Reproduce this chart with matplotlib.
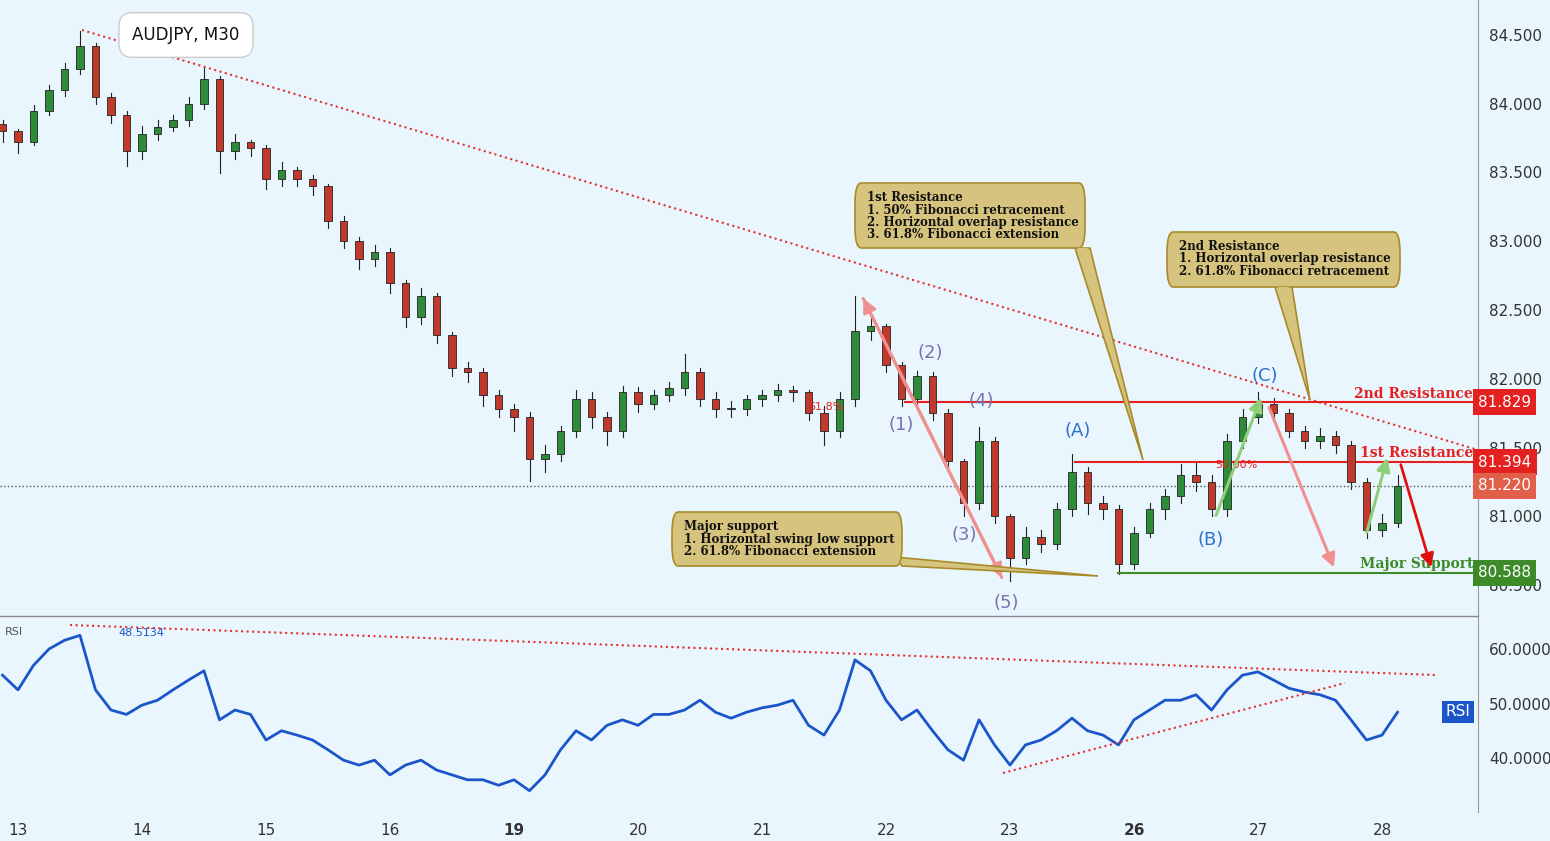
import matplotlib
matplotlib.use("Agg")
import matplotlib.pyplot as plt
from matplotlib.patches import Rectangle, FancyBboxPatch, Polygon
import numpy as np

day_labels = ["13", "14", "15", "16", "19", "20", "21", "22", "23", "26", "27", "28"]
bold_days = ["19", "26"]
closes = [83.80, 83.72, 83.95, 84.10, 84.25, 84.42, 84.05, 83.92, 83.66, 83.78,
          83.83, 83.88, 84.00, 84.18, 83.66, 83.72, 83.68, 83.45, 83.52, 83.45,
          83.40, 83.15, 83.00, 82.87, 82.92, 82.70, 82.45, 82.60, 82.32, 82.08,
          82.05, 81.88, 81.78, 81.72, 81.42, 81.45, 81.62, 81.85, 81.72, 81.62,
          81.90, 81.82, 81.88, 81.93, 82.05, 81.85, 81.78, 81.78, 81.85, 81.88,
          81.92, 81.90, 81.75, 81.62, 81.85, 82.35, 82.38, 82.10, 81.85, 82.02,
          81.75, 81.40, 81.10, 81.55, 81.00, 80.70, 80.85, 80.80, 81.05, 81.32,
          81.10, 81.05, 80.65, 80.88, 81.05, 81.15, 81.30, 81.25, 81.05, 81.55,
          81.72, 81.82, 81.75, 81.62, 81.55, 81.58, 81.52, 81.25, 80.90, 80.95, 81.22]
highs = [83.88, 83.82, 83.99, 84.14, 84.30, 84.53, 84.44, 84.08, 83.95, 83.84,
         83.88, 83.92, 84.05, 84.27, 84.20, 83.78, 83.74, 83.70, 83.58, 83.54,
         83.48, 83.42, 83.18, 83.03, 82.97, 82.95, 82.72, 82.66, 82.62, 82.34,
         82.12, 82.08, 81.92, 81.82, 81.76, 81.52, 81.66, 81.92, 81.90, 81.76,
         81.95, 81.94, 81.92, 81.98, 82.18, 82.08, 81.90, 81.84, 81.88, 81.92,
         81.96, 81.95, 81.92, 81.80, 81.90, 82.60, 82.45, 82.40, 82.12, 82.06,
         82.05, 81.78, 81.42, 81.65, 81.58, 81.02, 80.92, 80.90, 81.10, 81.45,
         81.36, 81.15, 81.08, 80.92, 81.10, 81.20, 81.38, 81.40, 81.30, 81.60,
         81.78, 81.90, 81.86, 81.78, 81.66, 81.64, 81.62, 81.55, 81.28, 81.02, 81.30]
lows = [83.72, 83.64, 83.70, 83.92, 84.06, 84.22, 84.00, 83.86, 83.55, 83.60,
        83.74, 83.80, 83.84, 83.96, 83.50, 83.60, 83.62, 83.38, 83.40, 83.40,
        83.34, 83.10, 82.95, 82.80, 82.82, 82.62, 82.38, 82.40, 82.26, 82.02,
        81.98, 81.80, 81.72, 81.62, 81.26, 81.32, 81.40, 81.58, 81.64, 81.52,
        81.58, 81.76, 81.78, 81.84, 81.88, 81.80, 81.72, 81.72, 81.74, 81.80,
        81.84, 81.84, 81.70, 81.52, 81.58, 81.80, 82.28, 82.05, 81.80, 81.82,
        81.70, 81.32, 81.00, 81.05, 80.95, 80.53, 80.65, 80.74, 80.76, 81.00,
        81.02, 80.98, 80.58, 80.62, 80.85, 80.98, 81.10, 81.18, 81.00, 81.00,
        81.50, 81.68, 81.70, 81.58, 81.50, 81.50, 81.46, 81.20, 80.84, 80.86, 80.92]
rsi = [55.2, 52.5, 57.0, 60.0, 61.6, 62.5, 52.5, 48.8, 48.0, 49.7,
       50.6, 52.5, 54.3, 56.0, 47.0, 48.8, 48.0, 43.3, 45.0, 44.2,
       43.3, 41.5, 39.6, 38.7, 39.6, 36.9, 38.7, 39.6, 37.8, 36.9,
       36.0, 36.0, 35.0, 36.0, 34.0, 36.9, 41.5, 45.0, 43.3, 46.0,
       47.0, 46.0, 48.0, 48.0, 48.8, 50.6, 48.4, 47.3, 48.4, 49.2,
       49.7, 50.6, 46.0, 44.2, 48.8, 58.0, 56.0, 50.6, 47.0, 48.8,
       45.0, 41.5, 39.6, 47.0, 42.4, 38.7, 42.4, 43.3, 45.0, 47.3,
       45.0, 44.2, 42.4, 47.0, 48.8, 50.6, 50.6, 51.6, 48.8, 52.5,
       55.2, 55.8, 54.3, 52.8, 52.1, 51.6, 50.6, 47.0, 43.3, 44.2, 48.4]
price_ticks = [80.5, 81.0, 81.5, 82.0, 82.5, 83.0, 83.5, 84.0, 84.5]
rsi_ticks = [40, 50, 60]
levels = {"2nd": 81.829, "1st": 81.394, "last": 81.220, "support": 80.588}

BG = "#eaf6fd"
W, H = 1550, 841
fig = plt.figure(figsize=(15.5, 8.41), dpi=100)
fig.patch.set_facecolor(BG)
axm = fig.add_axes([0, 1 - 615 / H, 1478 / W, 615 / H])
axr = fig.add_axes([0, 1 - 812 / H, 1478 / W, (812 - 617) / H])

XL = ((0 - 18) / 124, (1478 - 18) / 124)
def ux(px):
    return (px - 18) / 124
def py(pyx):
    return 84.5 - (pyx - 35) / 137.5
def ry(pyx):
    return 60 - (pyx - 649) / 5.45

for ax in (axm, axr):
    ax.set_facecolor(BG)
    ax.set_xlim(*XL)
    ax.yaxis.tick_right()
    ax.tick_params(axis="y", length=0, labelsize=11, colors="#333333", pad=8)
    for s in ["top", "left", "bottom"]:
        ax.spines[s].set_visible(False)
    ax.spines["right"].set_color("#999999")
axm.set_ylim(py(615), py(0))
axr.set_ylim(ry(812), ry(617))
axm.set_xticks([])
axm.set_yticks(price_ticks)
axm.set_yticklabels([f"{v:.3f}" for v in price_ticks])
axr.set_yticks(rsi_ticks)
axr.set_yticklabels([f"{v:.4f}" for v in rsi_ticks])
axr.set_xticks(range(len(day_labels)))
axr.set_xticklabels(day_labels)
axr.tick_params(axis="x", length=0, labelsize=11, colors="#333333", pad=8)
for lbl in axr.get_xticklabels():
    if lbl.get_text() in bold_days:
        lbl.set_fontweight("bold")
fig.add_artist(plt.Line2D([0, 1478 / W], [1 - 616 / H] * 2, color="#888888", lw=1))

# candles
n = len(closes)
us = -0.125 + 0.125 * np.arange(n)
opens = [closes[0] + 0.05] + closes[:-1]
for u, o, c, h, l in zip(us, opens, closes, highs, lows):
    col = "#2e8b3a" if c >= o else "#c0392b"
    axm.plot([u, u], [l, h], color="#222222", lw=0.8, zorder=2)
    axm.add_patch(Rectangle((u - 0.03, min(o, c)), 0.06, max(abs(c - o), 0.01),
                            facecolor=col, edgecolor="#222222", lw=0.6, zorder=3))

# RSI
axr.plot(us, rsi, color="#1a56c9", lw=2)
axr.plot([ux(70), ux(1435)], [ry(625), ry(675)], color="#e53030", ls=":", lw=1.5)
axr.plot([ux(1003), ux(1345)], [ry(773), ry(683)], color="#e53030", ls=":", lw=1.5)
axr.text(ux(5), ry(632), "RSI", fontsize=8, color="#555555", va="center")
axr.text(ux(118), ry(633), "48.5134", fontsize=8, color="#1a56c9", va="center")
axr.text(ux(1458), ry(712), "RSI", fontsize=11, color="white", ha="center", va="center",
         bbox=dict(boxstyle="square,pad=0.25", fc="#1a56c9", ec="none"))

# trendline and levels
axm.plot([ux(82), ux(1478)], [py(30), py(450)], color="#e53030", ls=":", lw=1.5)
axm.axhline(levels["last"], color="#555555", ls=":", lw=1)
axm.plot([ux(905), XL[1]], [levels["2nd"]] * 2, color="#e52020", lw=1.5)
axm.plot([ux(1075), XL[1]], [levels["1st"]] * 2, color="#e52020", lw=1.5)
axm.plot([ux(1118), XL[1]], [levels["support"]] * 2, color="#3c8a28", lw=1.5)
for key, col in [("2nd", "#e52020"), ("1st", "#e52020"), ("last", "#e0604a"), ("support", "#3c8a28")]:
    axm.text(1.0, levels[key], f"{levels[key]:.3f}", transform=axm.get_yaxis_transform(),
             fontsize=11, color="white", va="center", ha="left",
             bbox=dict(boxstyle="square,pad=0.35", fc=col, ec="none"))
axm.text(ux(1473), py(394), "2nd Resistance", color="#e52020", fontsize=10, fontweight="bold",
         family="DejaVu Serif", ha="right", va="center")
axm.text(ux(1473), py(453), "1st Resistance", color="#e52020", fontsize=10, fontweight="bold",
         family="DejaVu Serif", ha="right", va="center")
axm.text(ux(1473), py(564), "Major Support", color="#3c8a28", fontsize=10, fontweight="bold",
         family="DejaVu Serif", ha="right", va="center")
axm.text(ux(826), py(407), "61.8%", color="#e52020", fontsize=8, ha="center", va="center")
axm.text(ux(1236), py(465), "50.00%", color="#e52020", fontsize=8, ha="center", va="center")

# wave labels
for txt, x, y, c in [("(1)", 901, 425, "#7b6fb0"), ("(2)", 930, 353, "#7b6fb0"), ("(3)", 964, 535, "#7b6fb0"),
                     ("(4)", 981, 401, "#7b6fb0"), ("(5)", 1006, 603, "#7b6fb0"),
                     ("(A)", 1078, 431, "#2e6fd0"), ("(B)", 1211, 540, "#2e6fd0"), ("(C)", 1265, 376, "#2e6fd0")]:
    axm.text(ux(x), py(y), txt, color=c, fontsize=13, ha="center", va="center")

# arrows
def arr(x0, y0, x1, y1, col, lw=2.2):
    axm.annotate("", xy=(ux(x1), py(y1)), xytext=(ux(x0), py(y0)),
                 arrowprops=dict(arrowstyle="-|>,head_width=0.4,head_length=0.8", color=col, lw=lw))
arr(1003, 580, 862, 296, "#f09090")
arr(862, 296, 1003, 580, "#f09090")
arr(1268, 405, 1335, 570, "#f09090")
arr(1215, 518, 1262, 395, "#8fcf7a")
arr(1366, 535, 1388, 455, "#8fcf7a")
arr(1400, 462, 1432, 570, "#e01010", lw=2)

# callouts
def callout(x0, y0, x1, y1, tip, base, lines):
    x0d, x1d = ux(x0), ux(x1)
    poly = Polygon([(ux(base[0]), py(base[1])), (ux(tip[0]), py(tip[1])), (ux(base[2]), py(base[3]))],
                   closed=True, fc="#d6c47e", ec="#a88a2a", lw=1.2, zorder=5)
    axm.add_patch(poly)
    box = FancyBboxPatch((x0d, py(y1)), x1d - x0d, py(y0) - py(y1),
                         boxstyle="round,pad=0,rounding_size=0.05", fc="#d6c47e", ec="#a88a2a",
                         lw=1.2, zorder=6, mutation_aspect=3)
    axm.add_patch(box)
    axm.add_patch(Polygon([(ux(base[0]) + 0.01, py(base[1]) + 0.001), (ux(base[2]) - 0.01, py(base[3]) + 0.001),
                           ((ux(base[0]) + ux(base[2])) / 2, py(base[1]) - 0.02)], closed=True,
                          fc="#d6c47e", ec="none", zorder=7))
    axm.text(ux(x0 + 12), py(y0 + 8), "\n".join(lines), fontsize=8.5, fontweight="bold",
             family="DejaVu Serif", va="top", ha="left", linespacing=0.95, zorder=8, color="#111111")

callout(855, 183, 1085, 248, (1143, 460), (1075, 248, 1090, 248),
        ["1st Resistance", "1. 50% Fibonacci retracement", "2. Horizontal overlap resistance",
         "3. 61.8% Fibonacci extension"])
callout(1167, 232, 1400, 287, (1310, 400), (1275, 287, 1292, 287),
        ["2nd Resistance", "1. Horizontal overlap resistance", "2. 61.8% Fibonacci retracement"])
callout(672, 512, 902, 566, (1098, 576), (895, 557, 902, 566),
        ["Major support", "1. Horizontal swing low support", "2. 61.8% Fibonacci extension"])

axm.text(ux(186), py(35), "AUDJPY, M30", fontsize=12, ha="center", va="center", color="#111111",
         bbox=dict(boxstyle="round,pad=0.8", fc="white", ec="#cccccc"), zorder=9)

fig.savefig("out.png", dpi=100, facecolor=BG)
